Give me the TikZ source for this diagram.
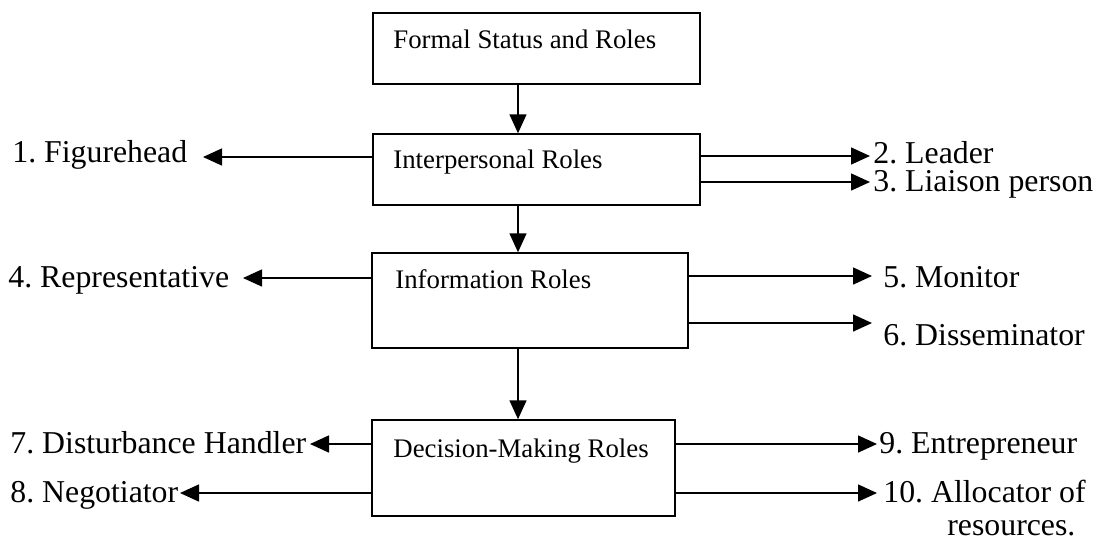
\documentclass[tikz,border=0pt]{standalone}
\usepackage{fontspec}
\setmainfont{Liberation Serif}
\usetikzlibrary{arrows.meta}
\frenchspacing
\begin{document}
\begin{tikzpicture}[x=0.5pt,y=-0.5pt,
  box/.style={draw, line width=0.75pt, inner sep=0pt, minimum width=#1},
  boxtext/.style={anchor=base west, inner sep=0pt, font=\fontsize{13.4}{16}\selectfont},
  role/.style={anchor=base west, inner sep=0pt, font=\fontsize{15.9}{19}\selectfont},
  arr/.style={line width=0.75pt, -{Triangle[length=9.5pt,width=8.5pt]}}]
\useasboundingbox (0,0) rectangle (1098,548);
% boxes
\node[box=163.5pt, minimum height=35.5pt] (b1) at (536.5,48.5) {};
\node[box=163.5pt, minimum height=35.5pt] (b2) at (536.5,169.5) {};
\node[box=158pt, minimum height=47.5pt] (b3) at (530,300.5) {};
\node[box=151.5pt, minimum height=48pt] (b4) at (523.5,468) {};
% box texts
\node[boxtext] (t1) at (393,48) {Formal Status and Roles};
\node[boxtext] (t2) at (393,168) {Interpersonal Roles};
\node[boxtext] (t3) at (395,288) {Information Roles};
\node[boxtext] (t4) at (393,457) {Decision-Making Roles};
% vertical arrows
\coordinate (ax) at (518,0);
\draw[arr] (b1.south -| ax) -- (b2.north -| ax);
\draw[arr] (b2.south -| ax) -- (b3.north -| ax);
\draw[arr] (b3.south -| ax) -- (b4.north -| ax);
% role labels
\node[role] (r1) at (12,162) {1. Figurehead};
\node[role, text depth=0pt] (r2) at (873,163) {2. Leader};
\node[role, text height=0.68em] (r3) at (873,191) {3. Liaison person};
\node[role] (r4) at (8,287) {4. Representative};
\node[role] (r5) at (883,287) {5. Monitor};
\node[role] (r6) at (883,345) {6. Disseminator};
\node[role] (r7) at (10,453) {7. Disturbance Handler};
\node[role] (r8) at (10,502) {8. Negotiator};
\node[role] (r9) at (879,453) {9. Entrepreneur};
\node[role] (r10) at (883,502) {10. Allocator of};
\node[role] (r10b) at (947,535) {resources.};
% arrow tips
\coordinate (e1) at (203,157);
\coordinate (e2) at (870,156);
\coordinate (e3) at (870,182);
\coordinate (e4) at (243,278);
\coordinate (e5) at (872,276);
\coordinate (e6) at (872,323);
\coordinate (e7) at (310,444);
\coordinate (e8) at (180,493);
\coordinate (e9) at (877,444);
\coordinate (e10) at (877,493);
% side arrows
\draw[arr] (b2.west |- e1) -- (e1);
\draw[arr] (b2.east |- e2) -- (e2);
\draw[arr] (b2.east |- e3) -- (e3);
\draw[arr] (b3.west |- e4) -- (e4);
\draw[arr] (b3.east |- e5) -- (e5);
\draw[arr] (b3.east |- e6) -- (e6);
\draw[arr] (b4.west |- e7) -- (e7);
\draw[arr] (b4.west |- e8) -- (e8);
\draw[arr] (b4.east |- e9) -- (e9);
\draw[arr] (b4.east |- e10) -- (e10);
\end{tikzpicture}
\end{document}
